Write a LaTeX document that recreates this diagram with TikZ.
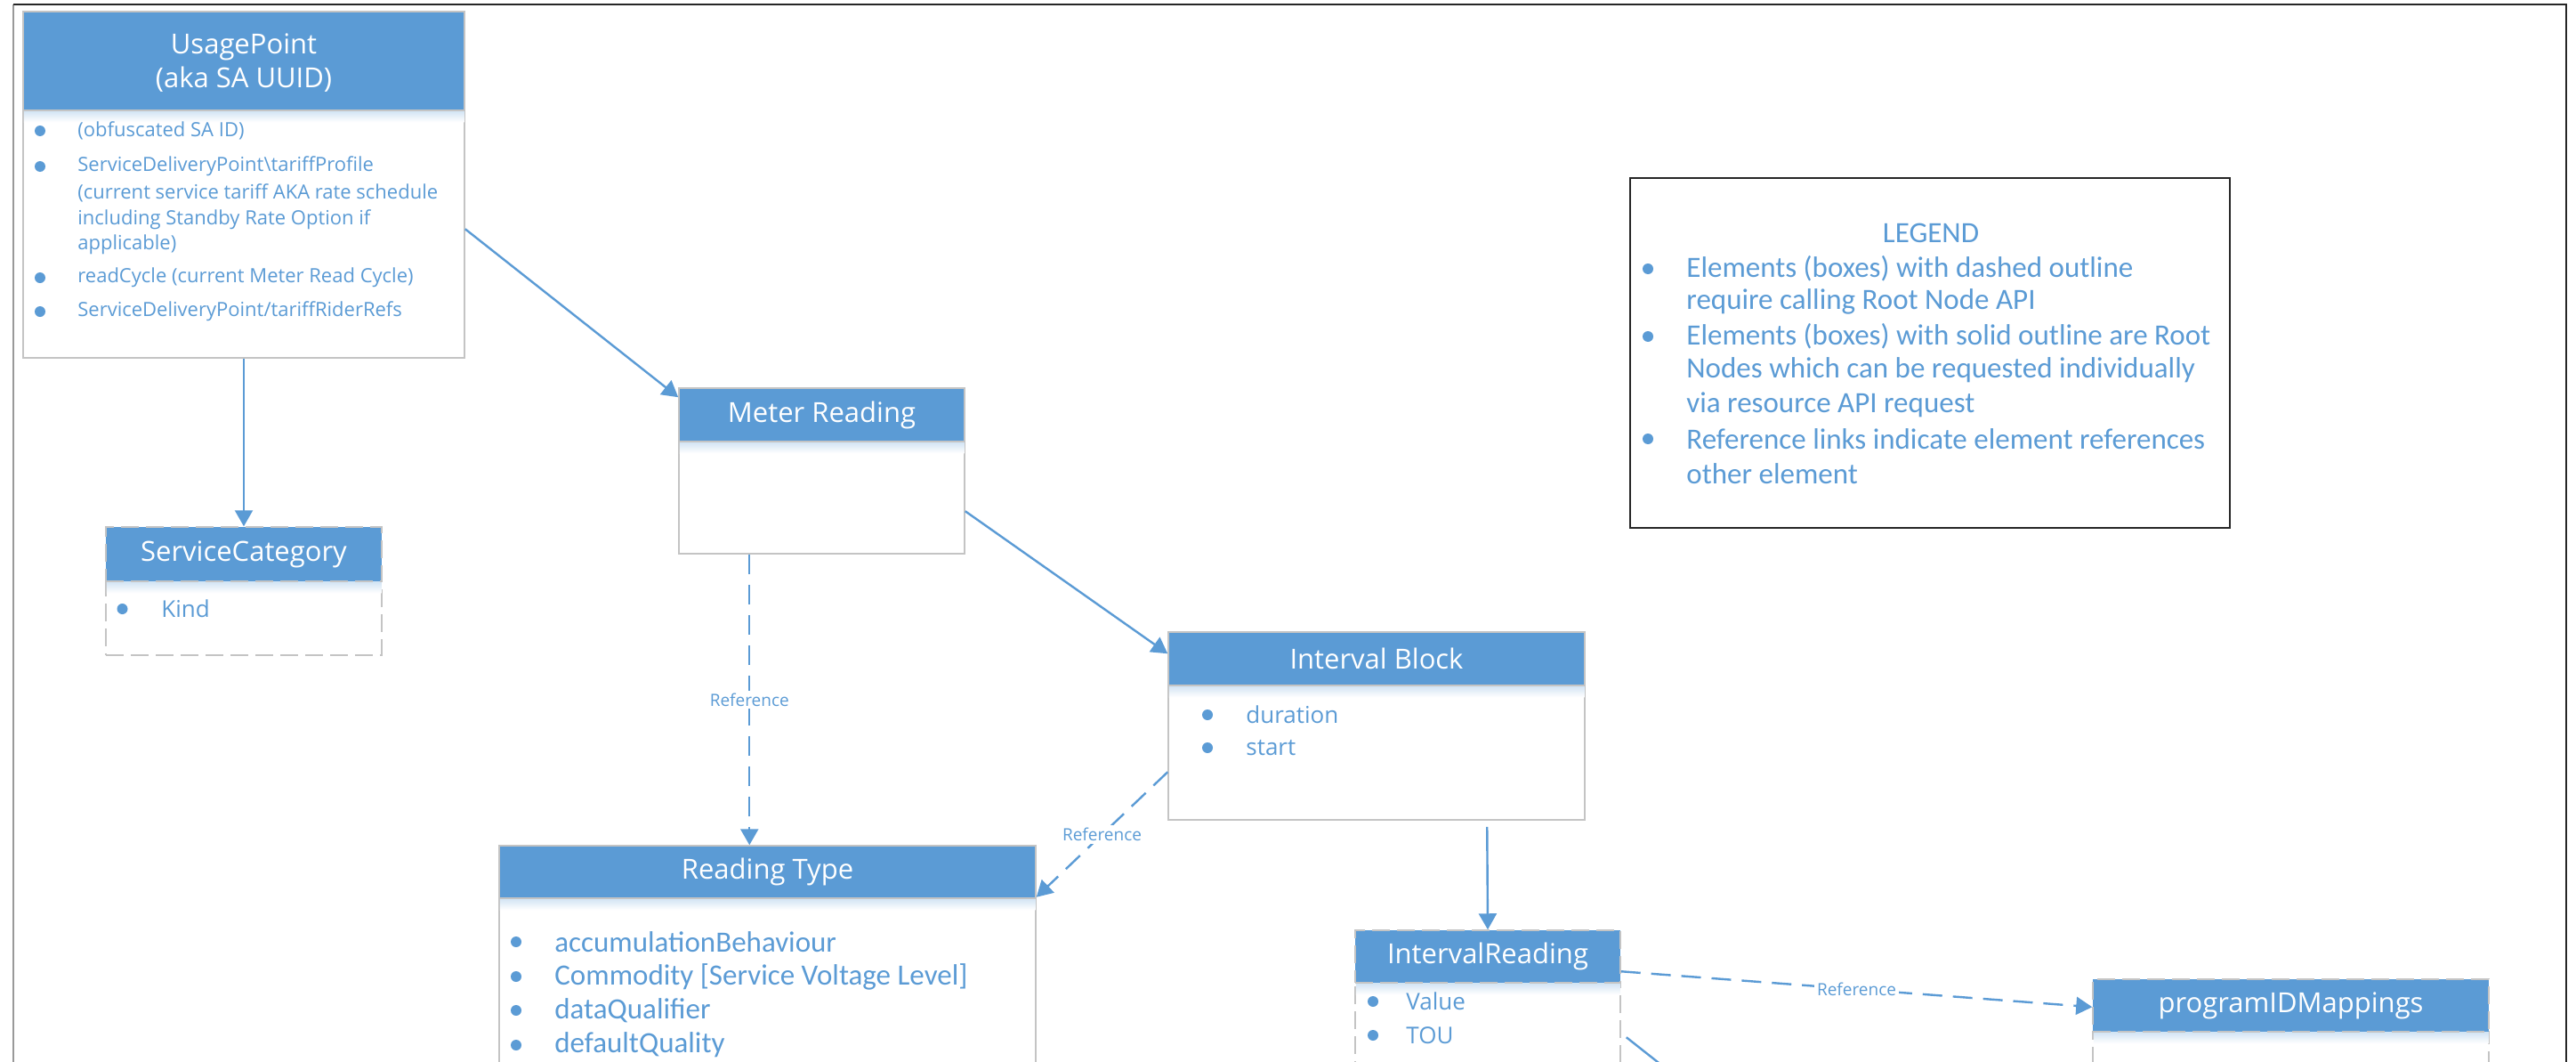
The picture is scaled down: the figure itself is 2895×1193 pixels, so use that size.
\documentclass[tikz,border=0pt]{standalone}
\usepackage{fontspec}
\setmainfont{Open Sans}
\newfontfamily\calfont{Carlito}
\usetikzlibrary{arrows.meta,calc,fit}
\definecolor{hblue}{RGB}{91,155,213}
\definecolor{boxgray}{RGB}{196,196,196}
\begin{document}
\begin{tikzpicture}[x=0.5pt,y=-0.5pt,
  hdr/.style={inner sep=0pt, fill=hblue, draw=boxgray, line width=0.75pt},
  htext/.style={inner sep=0pt, text=white, font=\fontsize{15.5}{19}\selectfont, align=center},
  bodybox/.style={inner sep=0pt, fill=white, draw=boxgray, line width=0.75pt},
  dashbox/.style={dash pattern=on 10pt off 4pt},
  item/.style={anchor=west, inner sep=0pt, text=hblue},
  upf/.style={font=\fontsize{11}{14}\selectfont},
  smf/.style={font=\fontsize{13}{16}\selectfont},
  calf/.style={font=\calfont\fontsize{16.5}{20}\selectfont},
  conn/.style={draw=hblue, line width=1.2pt, -{Triangle[length=9pt,width=10pt]}},
  refline/.style={conn, dash pattern=on 11pt off 6pt},
  reflab/.style={fill=white, text=hblue, inner sep=1.5pt, font=\fontsize{9.5}{11}\selectfont},
  bul/.style={fill=hblue},
  glow/.style={top color=hblue!30, bottom color=white}
]
\useasboundingbox (0,0) rectangle (2895,1193);
\clip (0,0) rectangle (2895,1193);
\fill[white] (0,0) rectangle (2895,1193);

% frame
\draw[gray!80, line width=1pt] (15,5) -- (15,1193);
\draw[black!85, line width=1pt] (15,5) -- (2884,5) -- (2884,1193);

% UsagePoint
\node[bodybox, fit={(26,124)(522,402)}] (upB) {};
\shade[glow] ($(upB.north west)+(1.5,0)$) rectangle ($(upB.north east)+(-1.5,14)$);
\node[hdr, fit={(26,13)(522,124)}] (upH) {};
\node[htext] (upT) at ($(upH.center)+(0,2)$) {UsagePoint\\(aka SA UUID)};
\foreach \yy in {147,187,312,350} \fill[bul] (45,\yy) circle[radius=3pt];
\node[item,upf] (up1) at (87,147) {(obfuscated SA ID)};
\node[item,upf] (up2) at (87,187) {ServiceDeliveryPoint\textbackslash tariffProfile};
\node[item,upf] (up3) at (87,217) {(current service tariff AKA rate schedule};
\node[item,upf] (up4) at (87,247) {including Standby Rate Option if};
\node[item,upf] (up5) at (87,275) {applicable)};
\node[item,upf] (up6) at (87,312) {readCycle (current Meter Read Cycle)};
\node[item,upf] (up7) at (87,350) {ServiceDeliveryPoint/tariffRiderRefs};

% ServiceCategory
\node[bodybox, dashbox, fit={(119,653)(429,736)}] (scB) {};
\shade[glow] ($(scB.north west)+(1.5,0)$) rectangle ($(scB.north east)+(-1.5,14)$);
\node[hdr, dashbox, fit={(119,592)(429,653)}] (scH) {};
\node[htext] (scT) at (scH.center) {ServiceCategory};
\fill[bul] (137.5,684) circle[radius=3pt];
\node[item,smf] (sc1) at (181,684) {Kind};

% Meter Reading
\node[bodybox, fit={(763,496)(1084,622)}] (mrB) {};
\shade[glow] ($(mrB.north west)+(1.5,0)$) rectangle ($(mrB.north east)+(-1.5,14)$);
\node[hdr, fit={(763,436)(1084,496)}] (mrH) {};
\node[htext] (mrT) at (mrH.center) {Meter Reading};

% Interval Block
\node[bodybox, fit={(1313,770)(1781,921)}] (ibB) {};
\shade[glow] ($(ibB.north west)+(1.5,0)$) rectangle ($(ibB.north east)+(-1.5,14)$);
\node[hdr, fit={(1313,710)(1781,770)}] (ibH) {};
\node[htext] (ibT) at (ibH.center) {Interval Block};
\foreach \yy in {803,840} \fill[bul] (1357,\yy) circle[radius=3pt];
\node[item,smf] (ib1) at (1400,803) {duration};
\node[item,smf] (ib2) at (1400,840) {start};

% Reading Type
\node[bodybox, fit={(561,1009)(1164,1260)}] (rtB) {};
\shade[glow] ($(rtB.north west)+(1.5,0)$) rectangle ($(rtB.north east)+(-1.5,14)$);
\node[hdr, fit={(561,950)(1164,1009)}] (rtH) {};
\node[htext] (rtT) at (rtH.center) {Reading Type};
\foreach \yy in {1058,1097,1135,1174} \fill[bul] (580,\yy) circle[radius=3pt];
\node[item,calf] (rt1) at (623,1058) {accumulationBehaviour};
\node[item,calf] (rt2) at (623,1097) {Commodity [Service Voltage Level]};
\node[item,calf] (rt3) at (623,1135) {dataQualifier};
\node[item,calf] (rt4) at (623,1174) {defaultQuality};

% Interval Reading
\node[bodybox, dashbox, fit={(1523,1104)(1821,1260)}] (irB) {};
\shade[glow] ($(irB.north west)+(1.5,0)$) rectangle ($(irB.north east)+(-1.5,14)$);
\node[hdr, dashbox, fit={(1523,1045)(1821,1104)}] (irH) {};
\node[htext] (irT) at (irH.center) {IntervalReading};
\foreach \yy in {1125,1163} \fill[bul] (1543,\yy) circle[radius=3pt];
\node[item,smf] (ir1) at (1580,1125) {Value};
\node[item,smf] (ir2) at (1580,1163) {TOU};

% programIDMappings
\node[bodybox, dashbox, fit={(2352,1159)(2797,1260)}] (pmB) {};
\shade[glow] ($(pmB.north west)+(1.5,0)$) rectangle ($(pmB.north east)+(-1.5,14)$);
\node[hdr, dashbox, fit={(2352,1100)(2797,1159)}] (pmH) {};
\node[htext] (pmT) at (pmH.center) {programIDMappings};

% Legend
\node[fit={(1832,200)(2506,593)}, inner sep=0pt, draw=black!85, line width=1pt] (lg) {};
\node[text=hblue, inner sep=0pt, calf] (lgT) at (2170,262) {LEGEND};
\foreach \yy in {302,378,493} \fill[bul] (1852,\yy) circle[radius=3pt];
\node[item,calf] (lg1) at (1895,302) {Elements (boxes) with dashed outline};
\node[item,calf] (lg2) at (1895,339) {require calling Root Node API};
\node[item,calf] (lg3) at (1895,378) {Elements (boxes) with solid outline are Root};
\node[item,calf] (lg4) at (1895,416) {Nodes which can be requested individually};
\node[item,calf] (lg5) at (1895,455) {via resource API request};
\node[item,calf] (lg6) at (1895,493) {Reference links indicate element references};
\node[item,calf] (lg7) at (1895,532) {other element};

% connectors
\draw[conn] (upB.south) -- (scH.north);
\draw[conn] ($(upB.north east)+(0,134)$) -- ($(mrH.north west)+(0,11)$);
\draw[conn] ($(mrB.north east)+(0,79)$) -- ($(ibH.north west)+(0,25)$);
\draw[refline] ($(mrB.south west)+(80,0)$) -- node[reflab] (lab1) {Reference} ($(rtH.north west)+(282,0)$);
\draw[refline] ($(ibB.north west)+(0,98)$) -- node[reflab] (lab2) {Reference} ($(rtH.south east)+(0,-2)$);
\draw[conn] ($(ibB.south west)+(359,7)$) -- (irH.north);
\draw[refline] ($(irH.north east)+(0,47)$) -- node[reflab] (lab3) {Reference} ($(pmH.north west)+(0,32)$);
\coordinate (irout) at (1930,1246);
\draw[draw=hblue, line width=1.2pt] ($(irB.north east)+(6,62)$) -- (irout);
\end{tikzpicture}
\end{document}
